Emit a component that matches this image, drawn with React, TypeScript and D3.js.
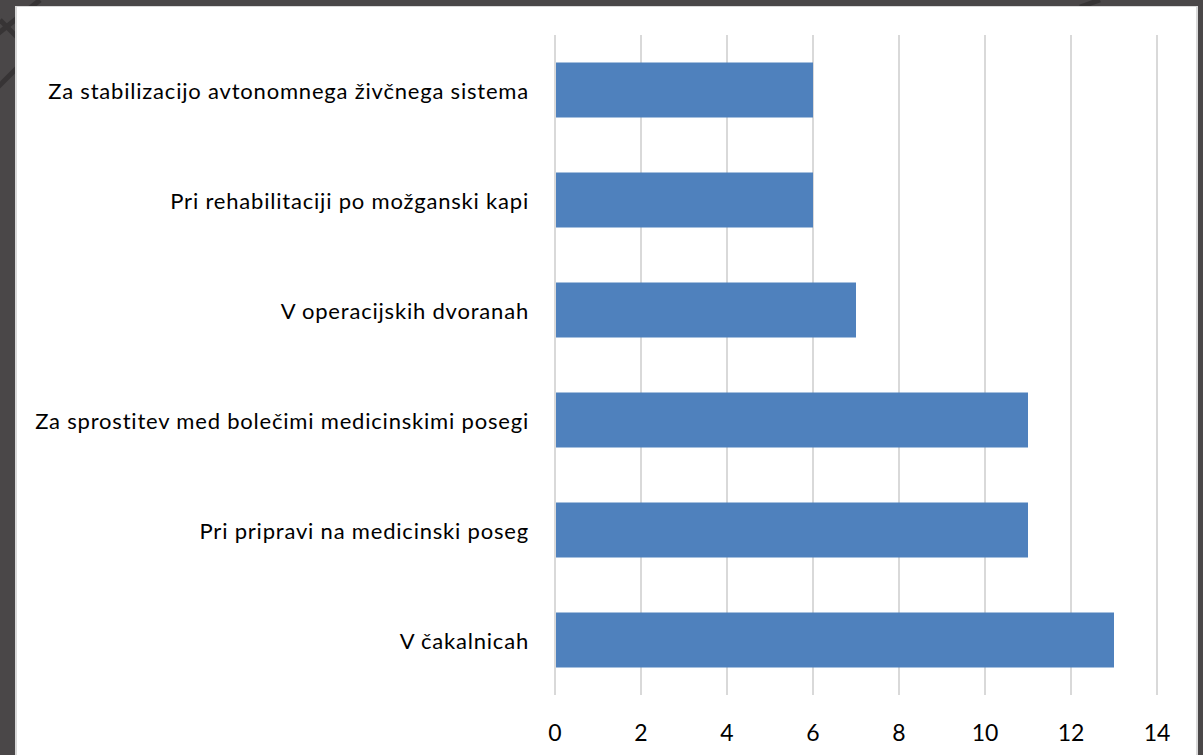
import React from "react";
import * as d3 from "d3";

const categories = [
  "Za stabilizacijo avtonomnega živčnega sistema",
  "Pri rehabilitaciji po možganski kapi",
  "V operacijskih dvoranah",
  "Za sprostitev med bolečimi medicinskimi posegi",
  "Pri pripravi na medicinski poseg",
  "V čakalnicah",
];
const values = [6, 6, 7, 11, 11, 13];
const xTicks = [0, 2, 4, 6, 8, 10, 12, 14];

const W = 1203;
const H = 755;
const plot = { left: 555, right: 1157, top: 35, bottom: 695 };

export default function App() {
  const x = d3.scaleLinear().domain([0, 14]).range([plot.left, plot.right]);
  const y = d3
    .scaleBand<string>()
    .domain(categories)
    .range([plot.top, plot.bottom])
    .paddingInner(0.5)
    .paddingOuter(0.25);
  const font = "Lato, 'Open Sans', sans-serif";
  return (
    <div style={{ position: "fixed", left: 0, top: 0 }}>
      <svg width={W} height={H} style={{ display: "block" }}>
        <rect x={0} y={0} width={W} height={H} fill="#4a4748" />
        <g stroke="#2f2d2e" strokeWidth={5} opacity={0.7}>
          <line x1={-10} y1={40} x2={40} y2={0} />
          <line x1={-10} y1={95} x2={30} y2={55} />
          <line x1={0} y1={20} x2={40} y2={60} />
          <line x1={1080} y1={7} x2={1100} y2={0} />
        </g>
        <rect x={15} y={6} width={1183} height={H} fill="#d9d9d9" />
        <rect x={17} y={7} width={1179} height={H} fill="#ffffff" />
        {xTicks.map((t) => (
          <line
            key={t}
            x1={x(t)}
            x2={x(t)}
            y1={plot.top}
            y2={plot.bottom}
            stroke="#d9d9d9"
            strokeWidth={2}
          />
        ))}
        {categories.map((c, i) => (
          <rect
            key={c}
            x={x(0) + 1}
            y={y(c)!}
            width={x(values[i]) - x(0) - 1}
            height={y.bandwidth()}
            fill="#4f81bd"
          />
        ))}
        {categories.map((c) => (
          <text
            key={c}
            x={529}
            y={y(c)! + y.bandwidth() / 2}
            textAnchor="end"
            dominantBaseline="central"
            fontFamily={font}
            fontSize={22}
            letterSpacing={0.8}
            fill="#000"
          >
            {c}
          </text>
        ))}
        {xTicks.map((t) => (
          <text
            key={t}
            x={x(t)}
            y={732}
            textAnchor="middle"
            dominantBaseline="central"
            fontFamily={font}
            fontSize={23}
            fill="#000"
          >
            {t}
          </text>
        ))}
      </svg>
    </div>
  );
}
